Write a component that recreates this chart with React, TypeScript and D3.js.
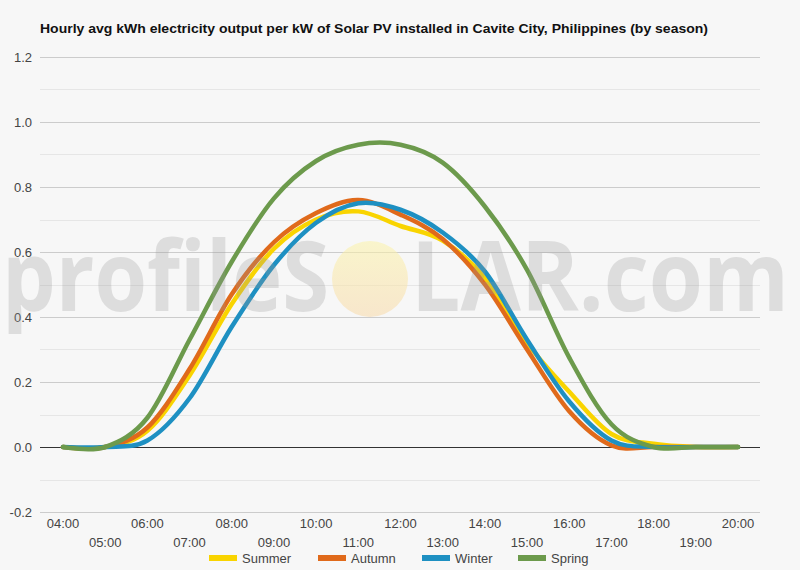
import React from "react";
import * as d3 from "d3";

// hours shown on the x axis (04:00 .. 20:00)
const hours = [4, 5, 6, 7, 8, 9, 10, 11, 12, 13, 14, 15, 16, 17, 18, 19, 20];
const hourLabels = hours.map((h) => (h < 10 ? "0" + h : "" + h) + ":00");

// kWh per kW
const summer = [0, 0, 0.05, 0.22, 0.44, 0.61, 0.7, 0.725, 0.68, 0.635, 0.52, 0.32, 0.17, 0.04, 0.01, 0, 0];
const autumn = [0, 0, 0.06, 0.24, 0.47, 0.63, 0.72, 0.76, 0.715, 0.64, 0.5, 0.3, 0.11, 0.005, 0, 0, 0];
const winter = [0, 0, 0.02, 0.15, 0.37, 0.56, 0.69, 0.75, 0.73, 0.66, 0.54, 0.33, 0.14, 0.02, 0, 0, 0];
const spring = [0, 0, 0.09, 0.33, 0.57, 0.765, 0.88, 0.93, 0.93, 0.875, 0.74, 0.545, 0.275, 0.07, 0, 0, 0];

const seriesNames = ["Summer", "Autumn", "Winter", "Spring"];
const seriesColors = ["#f9d400", "#e06a1b", "#1e90c2", "#6c9a4c"];
const seriesValues = [summer, autumn, winter, spring];

const yTicks = [-0.2, 0, 0.2, 0.4, 0.6, 0.8, 1.0, 1.2];
const yMinor = [-0.1, 0.1, 0.3, 0.5, 0.7, 0.9, 1.1];

const W = 800;
const H = 570;
const left = 40;
const right = 760;
const top = 57;
const bottom = 512;

const font = "'Liberation Sans', Arial, sans-serif";

export default function App() {
  const x = d3.scaleLinear().domain([4, 20]).range([63, 738]);
  const y = d3.scaleLinear().domain([-0.2, 1.2]).range([bottom, top]);
  const crisp = (v: number) => Math.round(y(v)) + 0.5;

  const line = d3
    .line<number>()
    .x((d, i) => x(hours[i]))
    .y((d) => y(d))
    .curve(d3.curveCatmullRom.alpha(0));

  const legendX = [209, 318, 422, 518];

  return (
    <svg
      width={W}
      height={H}
      style={{ position: "absolute", left: 0, top: 0 }}
      fontFamily={font}
    >
      <rect width={W} height={H} fill="#f7f7f7" />
      <text
        x={40}
        y={33}
        fontSize={13.5}
        fontWeight="bold"
        fill="#111"
        textLength={668}
        lengthAdjust="spacingAndGlyphs"
      >
        Hourly avg kWh electricity output per kW of Solar PV installed in Cavite City, Philippines (by season)
      </text>

      {/* gridlines */}
      {yMinor.map((t) => (
        <line key={"m" + t} x1={left} x2={right} y1={crisp(t)} y2={crisp(t)} stroke="#e6e6e6" />
      ))}
      {yTicks.map((t) => (
        <line
          key={"g" + t}
          x1={left}
          x2={right}
          y1={crisp(t)}
          y2={crisp(t)}
          stroke={t === 0 ? "#333" : "#cccccc"}
        />
      ))}
      {yTicks.map((t) => (
        <text
          key={"l" + t}
          x={32}
          y={y(t) + 5}
          textAnchor="end"
          fontSize={13}
          fill="#444"
        >
          {d3.format(".1f")(t).replace("−", "-")}
        </text>
      ))}

      {/* x labels, staggered on two rows */}
      {hours.map((h, i) => (
        <text
          key={"x" + h}
          x={x(h)}
          y={i % 2 === 0 ? 528 : 547}
          textAnchor="middle"
          fontSize={13}
          fill="#444"
        >
          {hourLabels[i]}
        </text>
      ))}

      {/* series */}
      {seriesValues.map((vals, i) => (
        <path
          key={seriesNames[i]}
          d={line(vals) || ""}
          fill="none"
          stroke={seriesColors[i]}
          strokeWidth={4.5}
          strokeLinejoin="round"
          strokeLinecap="round"
        />
      ))}

      {/* watermark */}
      <defs>
        <linearGradient id="sun" x1="0" x2="0" y1="0" y2="1">
          <stop offset="0%" stopColor="#fbf3a8" />
          <stop offset="100%" stopColor="#f8d9a8" />
        </linearGradient>
      </defs>
      <g pointerEvents="none">
        <circle cx={370} cy={279} r={38} fill="url(#sun)" opacity={0.55} />
        <text
          x={2}
          y={311}
          fontSize={96}
          fontFamily="'Open Sans', sans-serif"
          fontWeight={700}
          fill="#999"
          opacity={0.27}
          textLength={327}
          lengthAdjust="spacingAndGlyphs"
        >
          profileS
        </text>
        <text
          x={411}
          y={311}
          fontSize={96}
          fontFamily="'Open Sans', sans-serif"
          fontWeight={700}
          fill="#999"
          opacity={0.27}
          textLength={378}
          lengthAdjust="spacingAndGlyphs"
        >
          LAR.com
        </text>
      </g>

      {/* legend */}
      {seriesNames.map((n, i) => (
        <g key={"lg" + n}>
          <rect x={legendX[i]} y={555} width={28} height={6} fill={seriesColors[i]} />
          <text x={legendX[i] + 33} y={563} fontSize={13} fill="#444">
            {n}
          </text>
        </g>
      ))}
    </svg>
  );
}
